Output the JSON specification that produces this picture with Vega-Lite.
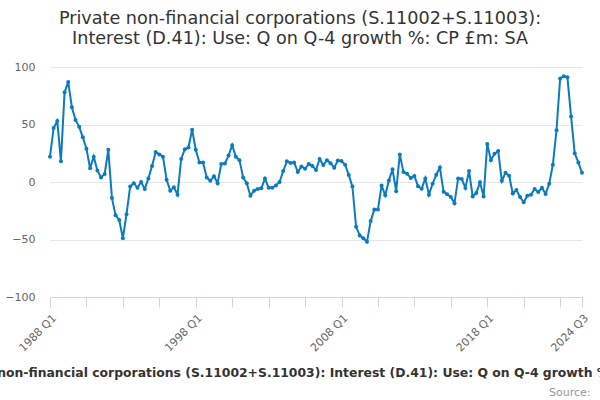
{
  "$schema": "https://vega.github.io/schema/vega-lite/v6.json",
  "width": 532,
  "height": 230,
  "autosize": {"type": "none"},
  "padding": {"left": 50, "top": 67, "right": 18, "bottom": 103},
  "background": "white",
  "title": {
    "text": ["Private non-financial corporations (S.11002+S.11003):", "Interest (D.41): Use: Q on Q-4 growth %: CP £m: SA"],
    "font": "DejaVu Sans",
    "fontSize": 17.6,
    "fontWeight": "normal",
    "color": "#333333",
    "anchor": "middle",
    "lineHeight": 20.5,
    "offset": 13,
    "dx": -16
  },
  "config": {
    "view": {"stroke": null},
    "font": "DejaVu Sans"
  },
  "data": {
    "values": [
      {"period": "1988 Q1", "value": 22}, {"period": "1988 Q2", "value": 47}, {"period": "1988 Q3", "value": 53}, {"period": "1988 Q4", "value": 18},
      {"period": "1989 Q1", "value": 78}, {"period": "1989 Q2", "value": 87}, {"period": "1989 Q3", "value": 65}, {"period": "1989 Q4", "value": 54},
      {"period": "1990 Q1", "value": 48}, {"period": "1990 Q2", "value": 39}, {"period": "1990 Q3", "value": 29}, {"period": "1990 Q4", "value": 12},
      {"period": "1991 Q1", "value": 22}, {"period": "1991 Q2", "value": 10}, {"period": "1991 Q3", "value": 4}, {"period": "1991 Q4", "value": 7},
      {"period": "1992 Q1", "value": 28}, {"period": "1992 Q2", "value": -14}, {"period": "1992 Q3", "value": -29}, {"period": "1992 Q4", "value": -33},
      {"period": "1993 Q1", "value": -49}, {"period": "1993 Q2", "value": -28}, {"period": "1993 Q3", "value": -4}, {"period": "1993 Q4", "value": -1},
      {"period": "1994 Q1", "value": -5}, {"period": "1994 Q2", "value": 0}, {"period": "1994 Q3", "value": -6}, {"period": "1994 Q4", "value": 3},
      {"period": "1995 Q1", "value": 14}, {"period": "1995 Q2", "value": 26}, {"period": "1995 Q3", "value": 24}, {"period": "1995 Q4", "value": 22},
      {"period": "1996 Q1", "value": 2}, {"period": "1996 Q2", "value": -7.5}, {"period": "1996 Q3", "value": -4.6}, {"period": "1996 Q4", "value": -11},
      {"period": "1997 Q1", "value": 20}, {"period": "1997 Q2", "value": 28.5}, {"period": "1997 Q3", "value": 30}, {"period": "1997 Q4", "value": 45.5},
      {"period": "1998 Q1", "value": 28}, {"period": "1998 Q2", "value": 17}, {"period": "1998 Q3", "value": 17}, {"period": "1998 Q4", "value": 4},
      {"period": "1999 Q1", "value": 1}, {"period": "1999 Q2", "value": 5}, {"period": "1999 Q3", "value": -1}, {"period": "1999 Q4", "value": 15.6},
      {"period": "2000 Q1", "value": 16}, {"period": "2000 Q2", "value": 23}, {"period": "2000 Q3", "value": 32}, {"period": "2000 Q4", "value": 22},
      {"period": "2001 Q1", "value": 19}, {"period": "2001 Q2", "value": 4}, {"period": "2001 Q3", "value": -1}, {"period": "2001 Q4", "value": -12},
      {"period": "2002 Q1", "value": -7.5}, {"period": "2002 Q2", "value": -6}, {"period": "2002 Q3", "value": -5.5}, {"period": "2002 Q4", "value": 3},
      {"period": "2003 Q1", "value": -5}, {"period": "2003 Q2", "value": -5}, {"period": "2003 Q3", "value": -3}, {"period": "2003 Q4", "value": 0},
      {"period": "2004 Q1", "value": 9.5}, {"period": "2004 Q2", "value": 18}, {"period": "2004 Q3", "value": 16.5}, {"period": "2004 Q4", "value": 17},
      {"period": "2005 Q1", "value": 8.6}, {"period": "2005 Q2", "value": 13.5}, {"period": "2005 Q3", "value": 11.5}, {"period": "2005 Q4", "value": 15.6},
      {"period": "2006 Q1", "value": 14}, {"period": "2006 Q2", "value": 10.4}, {"period": "2006 Q3", "value": 20}, {"period": "2006 Q4", "value": 14.7},
      {"period": "2007 Q1", "value": 19}, {"period": "2007 Q2", "value": 16.4}, {"period": "2007 Q3", "value": 12.4}, {"period": "2007 Q4", "value": 18.7},
      {"period": "2008 Q1", "value": 18.2}, {"period": "2008 Q2", "value": 15}, {"period": "2008 Q3", "value": 6}, {"period": "2008 Q4", "value": -4},
      {"period": "2009 Q1", "value": -39}, {"period": "2009 Q2", "value": -46.5}, {"period": "2009 Q3", "value": -49}, {"period": "2009 Q4", "value": -52},
      {"period": "2010 Q1", "value": -34}, {"period": "2010 Q2", "value": -24}, {"period": "2010 Q3", "value": -24}, {"period": "2010 Q4", "value": -3},
      {"period": "2011 Q1", "value": -11.6}, {"period": "2011 Q2", "value": 1.4}, {"period": "2011 Q3", "value": 11}, {"period": "2011 Q4", "value": -8},
      {"period": "2012 Q1", "value": 24}, {"period": "2012 Q2", "value": 8.6}, {"period": "2012 Q3", "value": 7.2}, {"period": "2012 Q4", "value": 3.4},
      {"period": "2013 Q1", "value": 5.2}, {"period": "2013 Q2", "value": -3.8}, {"period": "2013 Q3", "value": -5.8}, {"period": "2013 Q4", "value": 3.1},
      {"period": "2014 Q1", "value": -11}, {"period": "2014 Q2", "value": -1.5}, {"period": "2014 Q3", "value": 6.3}, {"period": "2014 Q4", "value": 12.6},
      {"period": "2015 Q1", "value": -8.4}, {"period": "2015 Q2", "value": -10.7}, {"period": "2015 Q3", "value": -13}, {"period": "2015 Q4", "value": -18.5},
      {"period": "2016 Q1", "value": 3.1}, {"period": "2016 Q2", "value": 2.6}, {"period": "2016 Q3", "value": -5.2}, {"period": "2016 Q4", "value": 9.5},
      {"period": "2017 Q1", "value": -12.5}, {"period": "2017 Q2", "value": -9.5}, {"period": "2017 Q3", "value": -0.3}, {"period": "2017 Q4", "value": -12.5},
      {"period": "2018 Q1", "value": 33}, {"period": "2018 Q2", "value": 19}, {"period": "2018 Q3", "value": 24.5}, {"period": "2018 Q4", "value": 27},
      {"period": "2019 Q1", "value": 1}, {"period": "2019 Q2", "value": 8}, {"period": "2019 Q3", "value": 5.5}, {"period": "2019 Q4", "value": -10},
      {"period": "2020 Q1", "value": -7}, {"period": "2020 Q2", "value": -13}, {"period": "2020 Q3", "value": -17.6}, {"period": "2020 Q4", "value": -12},
      {"period": "2021 Q1", "value": -11}, {"period": "2021 Q2", "value": -6}, {"period": "2021 Q3", "value": -8.7}, {"period": "2021 Q4", "value": -5},
      {"period": "2022 Q1", "value": -10.4}, {"period": "2022 Q2", "value": -1.5}, {"period": "2022 Q3", "value": 15}, {"period": "2022 Q4", "value": 45},
      {"period": "2023 Q1", "value": 90}, {"period": "2023 Q2", "value": 92}, {"period": "2023 Q3", "value": 91}, {"period": "2023 Q4", "value": 57},
      {"period": "2024 Q1", "value": 25}, {"period": "2024 Q2", "value": 17}, {"period": "2024 Q3", "value": 8}
    ]
  },
  "mark": {
    "type": "line",
    "color": "#0b7bc1",
    "strokeWidth": 2,
    "point": {"filled": true, "size": 16, "color": "#0b7bc1"}
  },
  "encoding": {
    "x": {
      "field": "period",
      "type": "ordinal",
      "sort": null,
      "scale": {"type": "point", "padding": 0},
      "axis": {
        "values": ["1988 Q1", "1990 Q3", "1993 Q1", "1995 Q3", "1998 Q1", "2000 Q3", "2003 Q1", "2005 Q3", "2008 Q1", "2010 Q3", "2013 Q1", "2015 Q3", "2018 Q1", "2020 Q3", "2023 Q1", "2024 Q3"],
        "labelExpr": "indexof(['1988 Q1','1998 Q1','2008 Q1','2018 Q1','2024 Q3'], datum.value) >= 0 ? datum.value : ''",
        "labelAngle": -45,
        "labelFont": "DejaVu Sans",
        "labelFontSize": 11,
        "labelColor": "#666666",
        "labelPadding": 5,
        "labelOverlap": false,
        "labelBound": false,
        "labelFlush": false,
        "domainColor": "#ccd6eb",
        "domainWidth": 1,
        "tickColor": "#ccd6eb",
        "tickSize": 10,
        "grid": false,
        "title": "Private non-financial corporations (S.11002+S.11003): Interest (D.41): Use: Q on Q-4 growth %: CP £m: SA",
        "titleFont": "DejaVu Sans",
        "titleFontSize": 12.4,
        "titleFontWeight": "bold",
        "titleColor": "#333333",
        "titleLimit": 2000,
        "titleBaseline": "middle",
        "titleY": 75
      }
    },
    "y": {
      "field": "value",
      "type": "quantitative",
      "scale": {"domain": [-100, 100], "nice": false},
      "axis": {
        "values": [-100, -50, 0, 50, 100],
        "domain": false,
        "ticks": false,
        "grid": true,
        "gridColor": "#e6e6e6",
        "labelFont": "DejaVu Sans",
        "labelFontSize": 11,
        "labelColor": "#666666",
        "labelPadding": 15,
        "title": "Source:",
        "titleAngle": 0,
        "titleAlign": "right",
        "titleBaseline": "alphabetic",
        "titleX": 540,
        "titleY": 328,
        "titleFont": "DejaVu Sans",
        "titleFontSize": 11,
        "titleFontWeight": "normal",
        "titleColor": "#999999"
      }
    }
  }
}
